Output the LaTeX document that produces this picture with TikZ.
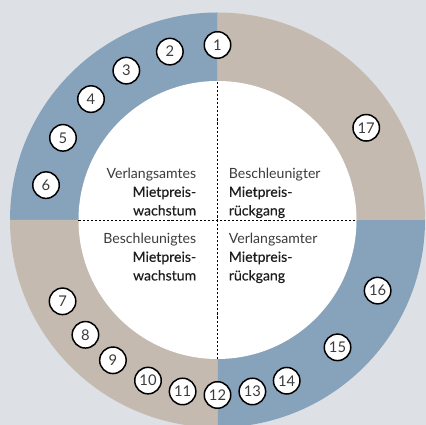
\documentclass[tikz,border=0pt]{standalone}
\usepackage{fontspec}
\setmainfont{Lato}
\newfontfamily\latomed{Lato}[FakeBold=0.4]
\definecolor{bgrey}{HTML}{DDE1E5}
\definecolor{ringblue}{HTML}{87A2BB}
\definecolor{ringsand}{HTML}{C4BAB0}
\definecolor{txtlight}{HTML}{3C3C3C}
\definecolor{txtdark}{HTML}{1E1E1E}
\tikzset{
	num/.style={circle,draw=black,line width=0.85pt,fill=white,minimum size=0.53cm,inner sep=0pt,text=txtlight,font=\fontsize{8.4}{8.4}\selectfont},
	quad/.style={inner sep=0pt,text=txtdark,font=\fontsize{8}{10.6}\selectfont},
	cross/.style={dash pattern=on 1.2pt off 1.1pt,line width=0.5pt}
}
\begin{document}
\begin{tikzpicture}
	\useasboundingbox[fill=bgrey] (-4.35,-4.1) rectangle (4.17,4.4);
	% ring quadrants
	\fill[ringblue] (0,0) -- (90:4.15) arc (90:180:4.15) -- cycle;
	\fill[ringsand] (0,0) -- (180:4.15) arc (180:270:4.15) -- cycle;
	\fill[ringblue] (0,0) -- (270:4.15) arc (270:360:4.15) -- cycle;
	\fill[ringsand] (0,0) -- (0:4.15) arc (0:90:4.15) -- cycle;
	\fill[white] (0,0) circle (2.78);
	\draw[cross] (-2.78,0) -- (2.78,0);
	\draw[cross] (0,-2.78) -- (0,2.78);
	
	% quadrant labels
	\node[quad,align=right,anchor=north east] (tl) at (-0.42,1.05) {{\color{txtlight}Verlangsamtes}\\{\latomed Mietpreis-}\\{\latomed wachstum}};
	\node[quad,align=left,anchor=north west] (tr) at (0.22,1.05) {{\color{txtlight}Beschleunigter}\\{\latomed Mietpreis-}\\{\latomed r\"uckgang}};
	\node[quad,align=right,anchor=north east] (bl) at (-0.42,-0.25) {{\color{txtlight}Beschleunigtes}\\{\latomed Mietpreis-}\\{\latomed wachstum}};
	\node[quad,align=left,anchor=north west] (br) at (0.22,-0.25) {{\color{txtlight}Verlangsamter}\\{\latomed Mietpreis-}\\{\latomed r\"uckgang}};
	
	% numbered points
	\node[num] (n1) at (90:3.5) {1};
	\node[num] (n2) at (105.8:3.5) {2};
	\node[num] (n3) at (121.4:3.5) {3};
	\node[num] (n4) at (136.3:3.5) {4};
	\node[num] (n5) at (152:3.5) {5};
	\node[num] (n6) at (168.5:3.5) {6};
	\node[num] (n7) at (207.7:3.5) {7};
	\node[num] (n8) at (221:3.5) {8};
	\node[num] (n9) at (233.3:3.5) {9};
	\node[num] (n10) at (246.6:3.5) {10};
	\node[num] (n11) at (258.5:3.5) {11};
	\node[num] (n12) at (270:3.5) {12};
	\node[num] (n13) at (281.5:3.5) {13};
	\node[num] (n14) at (293.3:3.5) {14};
	\node[num] (n15) at (313.3:3.5) {15};
	\node[num] (n16) at (336.2:3.5) {16};
	\node[num] (n17) at (31.8:3.5) {17};
\end{tikzpicture}
\end{document}
